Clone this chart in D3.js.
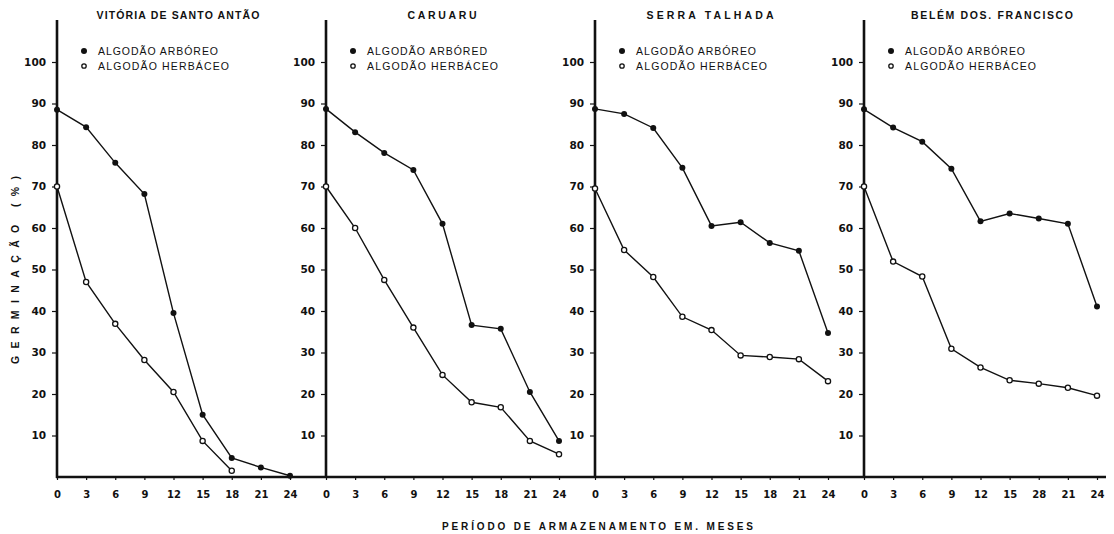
<!DOCTYPE html>
<html><head><meta charset="utf-8">
<script src="https://cdn.jsdelivr.net/npm/d3@7"></script>
<style>
html,body{margin:0;padding:0;background:#fff;}
svg{display:block;}
text{font-family:"Liberation Sans",Arial,sans-serif;fill:#111;}
</style></head>
<body>
<svg id="c" width="1114" height="534"></svg>
<script>
// ---- data ----
const months = [0, 3, 6, 9, 12, 15, 18, 21, 24];
const yTicks = [10, 20, 30, 40, 50, 60, 70, 80, 90, 100];
const xTickLabels = [
  ["0","3","6","9","12","15","18","21","24"],
  ["0","3","6","9","12","15","18","21","24"],
  ["0","3","6","9","12","15","18","21","24"],
  ["0","3","6","9","12","15","28","21","24"]
];
const titles = ["VITÓRIA DE SANTO ANTÃO", "CARUARU", "SERRA TALHADA", "BELÉM DOS. FRANCISCO"];
const legendArboreo = ["ALGODÃO ARBÓREO", "ALGODÃO ARBÓRED", "ALGODÃO ARBÓREO", "ALGODÃO ARBÓREO"];
const legendHerbaceo = ["ALGODÃO HERBÁCEO", "ALGODÃO HERBÁCEO", "ALGODÃO HERBÁCEO", "ALGODÃO HERBÁCEO"];

const arboreoVitoria = [88.5, 84.3, 75.7, 68.2, 39.5, 15.0, 4.6, 2.3, 0.3];
const herbaceoVitoria = [70.0, 47.0, 36.9, 28.2, 20.5, 8.7, 1.5, null, null];
const arboreoCaruaru = [88.7, 83.1, 78.1, 74.0, 61.0, 36.6, 35.7, 20.5, 8.7];
const herbaceoCaruaru = [70.0, 60.0, 47.5, 36.0, 24.6, 18.0, 16.8, 8.7, 5.5];
const arboreoSerra = [88.7, 87.5, 84.1, 74.5, 60.5, 61.4, 56.4, 54.5, 34.7];
const herbaceoSerra = [69.5, 54.7, 48.2, 38.6, 35.4, 29.3, 28.9, 28.4, 23.1];
const arboreoBelem = [88.6, 84.2, 80.8, 74.3, 61.6, 63.5, 62.3, 61.0, 41.1];
const herbaceoBelem = [70.0, 51.9, 48.3, 30.9, 26.4, 23.3, 22.5, 21.5, 19.6];

const arboreo = [arboreoVitoria, arboreoCaruaru, arboreoSerra, arboreoBelem];
const herbaceo = [herbaceoVitoria, herbaceoCaruaru, herbaceoSerra, herbaceoBelem];

// ---- layout ----
const svg = d3.select("#c");
const x0 = 57, panelStep = 269, panelW = 233;
const yBase = 477, yTop = 62;
const y = d3.scaleLinear().domain([0, 100]).range([yBase, yTop]);
const tickFont = "'DejaVu Sans',Verdana,sans-serif";

// continuous baseline
svg.append("line").attr("x1", x0 - 1).attr("x2", 1106).attr("y1", yBase).attr("y2", yBase)
  .attr("stroke", "#111").attr("stroke-width", 2.4);

const titleX = [178, 442, 710, 992];
const titleLen = [163, 69, 127, 162];

for (let p = 0; p < 4; p++) {
  const ox = x0 + p * panelStep;
  const x = d3.scaleLinear().domain([0, 24]).range([ox, ox + panelW]);
  const g = svg.append("g");

  // y axis line
  g.append("line").attr("x1", ox).attr("x2", ox).attr("y1", 20).attr("y2", yBase + 1)
    .attr("stroke", "#111").attr("stroke-width", 2.6);

  // y ticks
  const yAxis = d3.axisLeft(y).tickValues(yTicks).tickSize(5).tickPadding(6).tickFormat(d3.format("d"));
  const ya = g.append("g").attr("transform", `translate(${ox},0)`).call(yAxis);
  ya.select(".domain").remove();
  ya.selectAll("line").attr("stroke", "#111").attr("stroke-width", 1.2);
  ya.selectAll("text").style("font-size", "10.5px").style("font-weight", "bold")
    .style("font-family", tickFont).attr("fill", "#111");

  // x ticks
  const xAxis = d3.axisBottom(x).tickValues(months).tickSize(3).tickPadding(11)
    .tickFormat((d, i) => xTickLabels[p][i]);
  const xa = g.append("g").attr("transform", `translate(0,${yBase})`).call(xAxis);
  xa.select(".domain").remove();
  xa.selectAll("line").attr("stroke", "#111").attr("stroke-width", 1.2);
  xa.selectAll("text").style("font-size", "10px").style("font-weight", "bold")
    .style("font-family", tickFont).attr("fill", "#111");

  // title
  g.append("text").attr("x", titleX[p] - titleLen[p] / 2).attr("y", 19)
    .style("font-size", "10.5px").style("font-weight", "bold")
    .attr("textLength", titleLen[p]).attr("lengthAdjust", "spacing")
    .text(titles[p]);

  // legend
  const lx = ox + 27, lt = ox + 41;
  g.append("circle").attr("cx", lx).attr("cy", 51).attr("r", 3).attr("fill", "#111");
  g.append("circle").attr("cx", lx).attr("cy", 66).attr("r", 2.2).attr("fill", "#fff")
    .attr("stroke", "#111").attr("stroke-width", 1.3);
  g.append("text").attr("x", lt).attr("y", 55).style("font-size", "10.5px").style("font-weight", "500")
    .attr("textLength", 120).attr("lengthAdjust", "spacing")
    .text(legendArboreo[p]);
  g.append("text").attr("x", lt).attr("y", 70).style("font-size", "10.5px").style("font-weight", "500")
    .attr("textLength", 131).attr("lengthAdjust", "spacing")
    .text(legendHerbaceo[p]);

  // lines
  const line = d3.line().defined(d => d[1] != null).x(d => x(d[0])).y(d => y(d[1]));
  const arbPts = months.map((m, i) => [m, arboreo[p][i]]);
  const herPts = months.map((m, i) => [m, herbaceo[p][i]]);
  g.append("path").attr("d", line(herPts)).attr("fill", "none").attr("stroke", "#111").attr("stroke-width", 1.4);
  g.append("path").attr("d", line(arbPts)).attr("fill", "none").attr("stroke", "#111").attr("stroke-width", 1.4);

  g.selectAll(".her").data(herPts.filter(d => d[1] != null)).enter().append("circle")
    .attr("cx", d => x(d[0])).attr("cy", d => y(d[1])).attr("r", 2.6)
    .attr("fill", "#fff").attr("stroke", "#111").attr("stroke-width", 1.3);
  g.selectAll(".arb").data(arbPts.filter(d => d[1] != null)).enter().append("circle")
    .attr("cx", d => x(d[0])).attr("cy", d => y(d[1])).attr("r", 3)
    .attr("fill", "#111");
}

// axis titles
svg.append("text").attr("transform", "translate(19,270) rotate(-90)").attr("text-anchor", "middle")
  .style("font-size", "10.5px").style("font-weight", "bold")
  .attr("textLength", 188).attr("lengthAdjust", "spacing")
  .text("GERMINAÇÃO (%)");
svg.append("text").attr("x", 442).attr("y", 530)
  .style("font-size", "10px").style("font-weight", "bold")
  .attr("textLength", 311).attr("lengthAdjust", "spacing")
  .text("PERÍODO  DE  ARMAZENAMENTO  EM.  MESES");
</script>
</body></html>
